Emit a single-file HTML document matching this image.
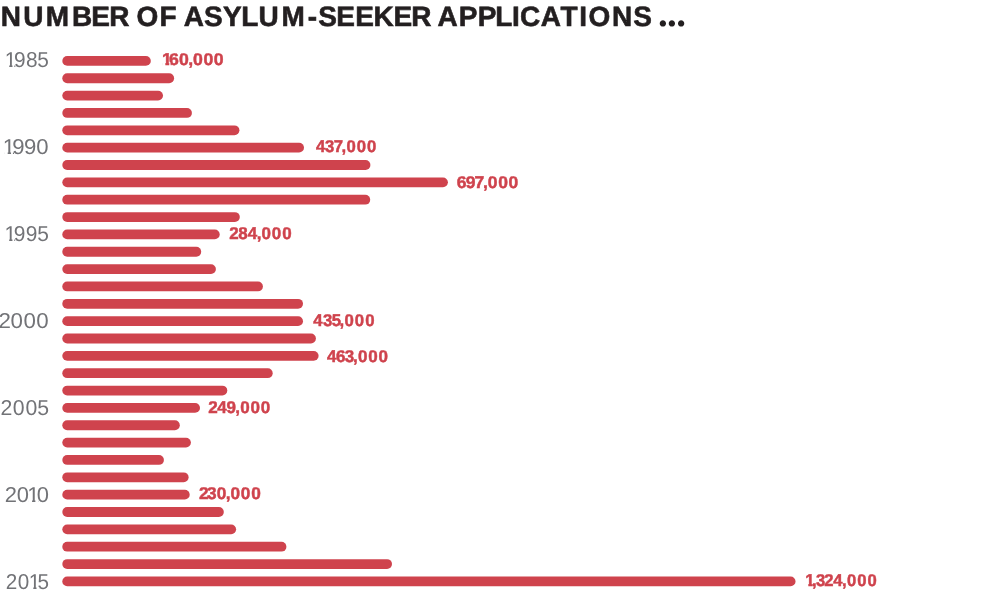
<!DOCTYPE html>
<html><head><meta charset="utf-8"><title>Number of asylum-seeker applications</title><style>
html,body{margin:0;padding:0;background:#fff;}
body{width:990px;height:600px;position:relative;overflow:hidden;}
svg{position:absolute;left:0;top:0;will-change:transform;}
text{text-rendering:geometricPrecision;white-space:pre;}
.t{font-family:"Liberation Sans",sans-serif;font-weight:bold;font-size:28.0px;fill:#231f20;stroke:#231f20;stroke-width:0.6px;}
.d{font-family:"Liberation Serif",serif;font-weight:bold;font-size:39.0px;fill:#231f20;stroke:none;}
.y{font-family:"Liberation Sans",sans-serif;font-weight:normal;font-size:21.56px;fill:#727377;}
.v{font-family:"Liberation Sans",sans-serif;font-weight:bold;font-size:17.03px;fill:#cf434d;stroke:#cf434d;stroke-width:0.45px;}
.bars{fill:#cf434d;}
</style></head><body>
<svg width="990" height="600" viewBox="0 0 990 600">
<defs><clipPath id="c1" clipPathUnits="userSpaceOnUse"><path clip-rule="evenodd" d="M-10 -10H1000V700H-10ZM6.14 64.94H9.55V67.70H6.14ZM12.91 64.94H14.83V67.70H12.91Z"/></clipPath><clipPath id="c2" clipPathUnits="userSpaceOnUse"><path clip-rule="evenodd" d="M-10 -10H1000V700H-10ZM4.03 151.94H7.47V154.70H4.03ZM10.74 151.94H12.59V154.70H10.74Z"/></clipPath><clipPath id="c3" clipPathUnits="userSpaceOnUse"><path clip-rule="evenodd" d="M-10 -10H1000V700H-10ZM6.04 238.94H9.46V241.70H6.04ZM12.80 238.94H14.71V241.70H12.80Z"/></clipPath><clipPath id="c4" clipPathUnits="userSpaceOnUse"><path clip-rule="evenodd" d="M-10 -10H1000V700H-10ZM28.02 499.94H31.45V502.70H28.02ZM34.73 499.94H37.85V502.70H34.73Z"/></clipPath><clipPath id="c5" clipPathUnits="userSpaceOnUse"><path clip-rule="evenodd" d="M-10 -10H1000V700H-10ZM31.25 586.94H34.66V589.70H31.25ZM38.03 586.94H40.97V589.70H38.03Z"/></clipPath><clipPath id="c6" clipPathUnits="userSpaceOnUse"><path clip-rule="evenodd" d="M-10 -10H1000V700H-10ZM156.47 62.59H159.25V65.92H156.47ZM162.94 62.59H164.34V65.92H162.94Z"/></clipPath><clipPath id="c7" clipPathUnits="userSpaceOnUse"><path clip-rule="evenodd" d="M-10 -10H1000V700H-10ZM823.67 583.59H826.44V586.93H823.67ZM830.21 583.59H830.50V586.93H830.21Z"/></clipPath></defs>
<text class="t" transform="scale(0.9987 1)" x="0.87 23.40 45.77 72.00 91.46 109.40 132.72 136.67 159.84 179.88 183.91 204.33 223.30 241.61 258.95 281.81 308.20 318.68 336.67 355.79 373.92 394.04 411.88 434.55 438.13 459.45 478.38 495.99 512.67 520.77 541.51 561.32 580.00 589.29 612.69 634.17 655.93 658.82 667.93 677.09" y="26.00">NUMBER OF ASYLUM-SEEKER APPLICATIONS <tspan class="d">...</tspan></text>
<text class="y" transform="scale(0.9671 1)" x="4.86 14.43 26.83 38.48" y="67.00" clip-path="url(#c1)">1985</text>
<text class="y" transform="scale(1.0276 1)" x="2.73 11.85 23.43 35.40" y="154.00" clip-path="url(#c2)">1990</text>
<text class="y" transform="scale(0.9716 1)" x="4.76 14.27 26.62 38.22" y="241.00" clip-path="url(#c3)">1995</text>
<text class="y" transform="scale(1.0371 1)" x="-1.48 10.19 22.62 34.97" y="328.00">2000</text>
<text class="y" transform="scale(0.9872 1)" x="0.45 12.81 25.87 37.80" y="415.00">2005</text>
<text class="y" transform="scale(1.0190 1)" x="4.62 16.50 26.72 36.02" y="502.00" clip-path="url(#c4)">2010</text>
<text class="y" transform="scale(0.9604 1)" x="6.08 18.52 29.97 38.95" y="589.00" clip-path="url(#c5)">2015</text>
<text class="v" transform="scale(1.0385 1)" x="155.95 162.73 172.45 181.32 185.95 195.85 205.79" y="65.00" clip-path="url(#c6)">160,000</text>
<text class="v" transform="scale(0.9824 1)" x="321.72 330.79 339.77 347.62 352.66 363.11 373.62" y="152.00">437,000</text>
<text class="v" transform="scale(1.0291 1)" x="443.75 452.62 461.01 469.39 474.08 484.07 494.10" y="188.00">697,000</text>
<text class="v" transform="scale(0.9978 1)" x="229.65 238.79 248.29 257.25 262.17 272.47 282.81" y="239.00">284,000</text>
<text class="v" transform="scale(0.9866 1)" x="317.51 327.29 336.17 344.23 349.23 359.65 370.11" y="326.00">435,000</text>
<text class="v" transform="scale(1.0006 1)" x="326.69 335.87 344.63 352.88 357.77 368.04 378.36" y="362.00">463,000</text>
<text class="v" transform="scale(1.0013 1)" x="207.90 217.03 226.28 235.01 239.90 250.16 260.47" y="413.00">249,000</text>
<text class="v" transform="scale(1.0132 1)" x="196.47 204.41 213.83 222.79 227.60 237.74 247.93" y="499.00">230,000</text>
<text class="v" transform="scale(0.9781 1)" x="823.18 830.12 834.39 842.68 851.85 860.89 865.96 876.46 887.02" y="586.00" clip-path="url(#c7)">1,324,000</text>
<g class="bars">
<rect x="62.3" y="56.00" width="88.50" height="9.8" rx="4.9"/>
<rect x="62.3" y="73.35" width="111.80" height="9.8" rx="4.9"/>
<rect x="62.3" y="90.70" width="100.70" height="9.8" rx="4.9"/>
<rect x="62.3" y="108.05" width="129.60" height="9.8" rx="4.9"/>
<rect x="62.3" y="125.40" width="177.10" height="9.8" rx="4.9"/>
<rect x="62.3" y="142.75" width="241.70" height="9.8" rx="4.9"/>
<rect x="62.3" y="160.10" width="308.10" height="9.8" rx="4.9"/>
<rect x="62.3" y="177.45" width="385.60" height="9.8" rx="4.9"/>
<rect x="62.3" y="194.80" width="307.90" height="9.8" rx="4.9"/>
<rect x="62.3" y="212.15" width="177.50" height="9.8" rx="4.9"/>
<rect x="62.3" y="229.50" width="157.40" height="9.8" rx="4.9"/>
<rect x="62.3" y="246.85" width="138.90" height="9.8" rx="4.9"/>
<rect x="62.3" y="264.20" width="153.60" height="9.8" rx="4.9"/>
<rect x="62.3" y="281.55" width="200.60" height="9.8" rx="4.9"/>
<rect x="62.3" y="298.90" width="240.70" height="9.8" rx="4.9"/>
<rect x="62.3" y="316.25" width="240.70" height="9.8" rx="4.9"/>
<rect x="62.3" y="333.60" width="253.60" height="9.8" rx="4.9"/>
<rect x="62.3" y="350.95" width="256.30" height="9.8" rx="4.9"/>
<rect x="62.3" y="368.30" width="210.40" height="9.8" rx="4.9"/>
<rect x="62.3" y="385.65" width="165.00" height="9.8" rx="4.9"/>
<rect x="62.3" y="403.00" width="137.70" height="9.8" rx="4.9"/>
<rect x="62.3" y="420.35" width="117.50" height="9.8" rx="4.9"/>
<rect x="62.3" y="437.70" width="128.60" height="9.8" rx="4.9"/>
<rect x="62.3" y="455.05" width="101.60" height="9.8" rx="4.9"/>
<rect x="62.3" y="472.40" width="126.30" height="9.8" rx="4.9"/>
<rect x="62.3" y="489.75" width="127.40" height="9.8" rx="4.9"/>
<rect x="62.3" y="507.10" width="161.50" height="9.8" rx="4.9"/>
<rect x="62.3" y="524.45" width="173.80" height="9.8" rx="4.9"/>
<rect x="62.3" y="541.80" width="224.10" height="9.8" rx="4.9"/>
<rect x="62.3" y="559.15" width="329.70" height="9.8" rx="4.9"/>
<rect x="62.3" y="576.50" width="733.20" height="9.8" rx="4.9"/>
</g>
</svg>
</body></html>
